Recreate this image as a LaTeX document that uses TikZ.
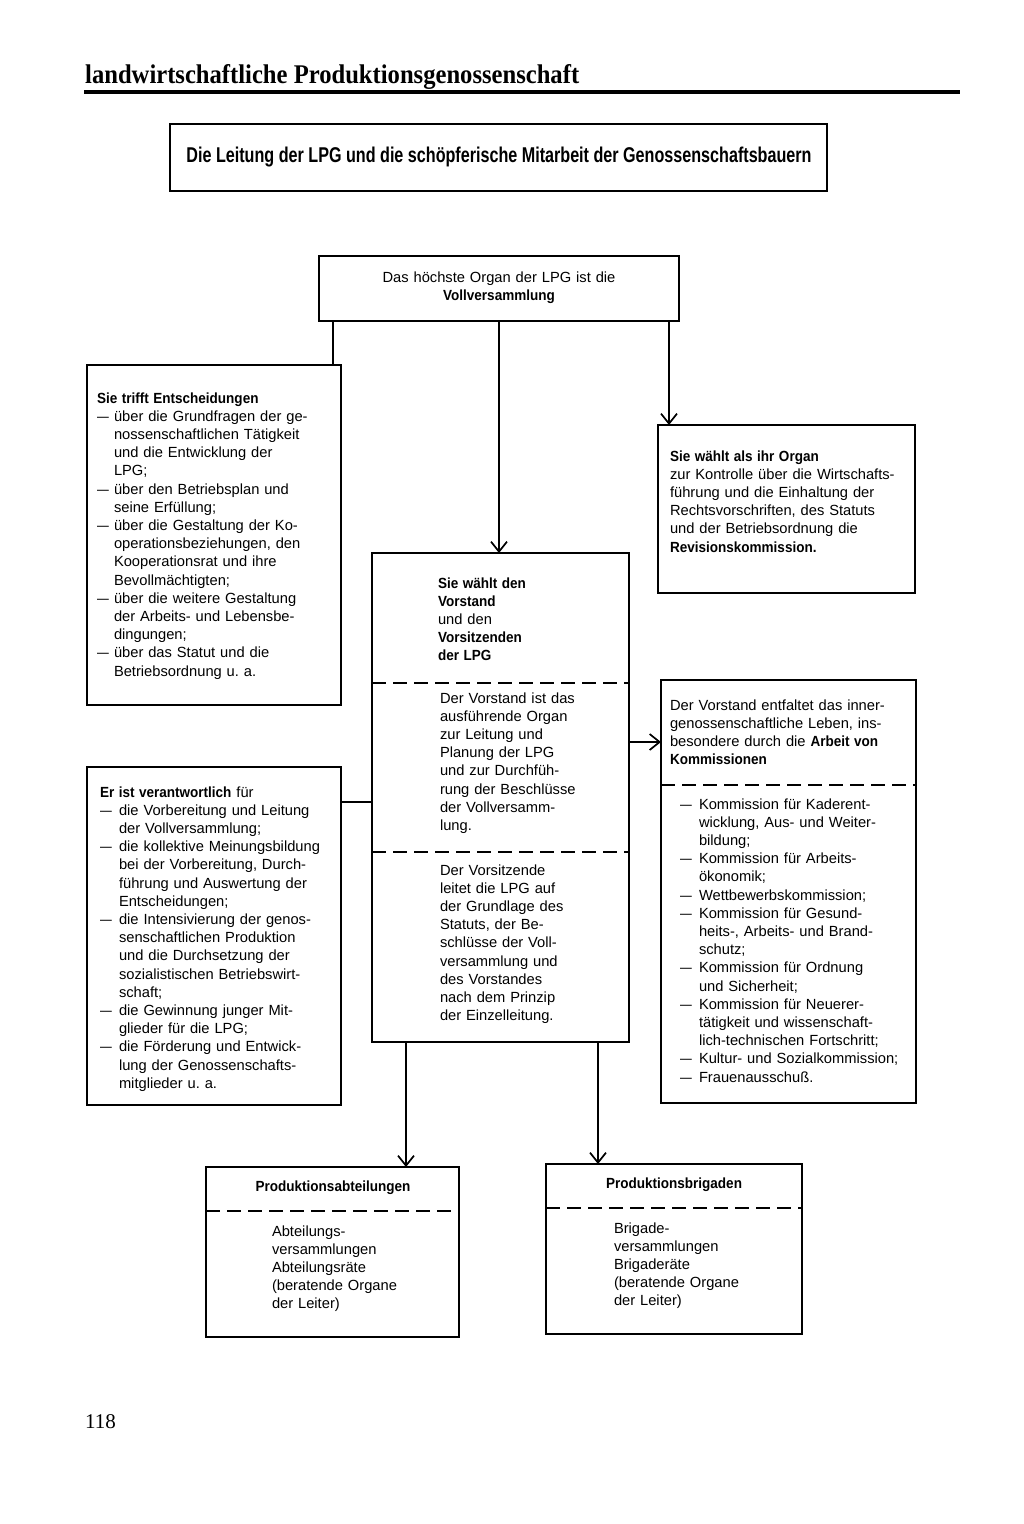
\documentclass[tikz,border=0pt]{standalone}
\usepackage{fontspec}
\usepackage{graphicx}
\setmainfont{Liberation Sans}
\newfontfamily\seriffont{Liberation Serif}
\usetikzlibrary{arrows.meta,calc}
\frenchspacing
\newlength\dw
\setlength\dw{17pt}
\newcommand\B[1]{\scalebox{0.92}[1]{\bfseries #1}}
\newcommand\dd{\makebox[\dw][l]{\scalebox{0.8}[1]{—}}}
\newcommand\ii{\hspace*{\dw}}
\tikzset{
  box/.style={draw, line width=1.9pt, inner sep=0pt, outer sep=0pt, anchor=north west},
  txt/.style={anchor=north west, inner sep=0pt, outer sep=0pt, align=left, text width=245pt,
    font=\fontsize{14.7}{18.2}\selectfont},
  ctxt/.style={inner sep=0pt, outer sep=0pt, font=\fontsize{14.7}{18.2}\selectfont},
  divider/.style={line width=1.8pt, dash pattern=on 14pt off 7pt},
  conn/.style={line width=1.7pt},
  arr/.style={line width=1.7pt, -{Straight Barb[length=10pt,width=16pt,line width=1.7pt]}}
}
\begin{document}
\begin{tikzpicture}[x=1pt,y=-1pt]
\useasboundingbox[fill=white] (0,0) rectangle (1024,1524);

% header
\node[anchor=base west, inner sep=0pt] (head) at (85,83)
  {\resizebox{494pt}{19pt}{\seriffont\bfseries landwirtschaftliche Produktionsgenossenschaft}};
\draw[line width=3.5pt] (84,92) -- (960,92);

% title box
\node[box, minimum width=657pt, minimum height=67pt] (title) at (170,124) {};
\node[anchor=base, inner sep=0pt] (titletext) at (499,162)
  {\resizebox{625pt}{15.5pt}{\bfseries Die Leitung der LPG und die schöpferische Mitarbeit der Genossenschaftsbauern}};

% boxes
\node[box, minimum width=360pt, minimum height=65pt] (vv) at (319,256) {};
\node[box, minimum width=254pt, minimum height=340pt] (a) at (87,365) {};
\node[box, minimum width=257pt, minimum height=168pt] (b) at (658,425) {};
\node[box, minimum width=257pt, minimum height=489pt] (c) at (372,553) {};
\node[box, minimum width=254pt, minimum height=338pt] (d) at (87,767) {};
\node[box, minimum width=255pt, minimum height=423pt] (e) at (661,680) {};
\node[box, minimum width=253pt, minimum height=170pt] (f) at (206,1167) {};
\node[box, minimum width=256pt, minimum height=170pt] (g) at (546,1164) {};

% dividers
\draw[divider] ([yshift=-130pt]c.north west) -- ([yshift=-130pt]c.north east);
\draw[divider] ([yshift=-299pt]c.north west) -- ([yshift=-299pt]c.north east);
\draw[divider] ([yshift=-105pt]e.north west) -- ([yshift=-105pt]e.north east);
\draw[divider] ([yshift=-44pt]f.north west) -- ([yshift=-44pt]f.north east);
\draw[divider] ([yshift=-44pt]g.north west) -- ([yshift=-44pt]g.north east);

% texts
\node[ctxt, anchor=north, align=center, text width=340pt] (vvtext) at (499,269.3)
  {\strut Das höchste Organ der LPG ist die\\ \B{Vollversammlung}};

\node[txt] (atext) at (97,390.3) {\setlength\dw{17pt}\strut\B{Sie trifft Entscheidungen}\\
\dd über die Grundfragen der ge-\\
\ii nossenschaftlichen Tätigkeit\\
\ii und die Entwicklung der\\
\ii LPG;\\
\dd über den Betriebsplan und\\
\ii seine Erfüllung;\\
\dd über die Gestaltung der Ko-\\
\ii operationsbeziehungen, den\\
\ii Kooperationsrat und ihre\\
\ii Bevollmächtigten;\\
\dd über die weitere Gestaltung\\
\ii der Arbeits- und Lebensbe-\\
\ii dingungen;\\
\dd über das Statut und die\\
\ii Betriebsordnung u. a.};

\node[txt] (btext) at (670,448.3) {\strut\B{Sie wählt als ihr Organ}\\
zur Kontrolle über die Wirtschafts-\\
führung und die Einhaltung der\\
Rechtsvorschriften, des Statuts\\
und der Betriebsordnung die\\
\B{Revisionskommission.}};

\node[txt] (c1text) at (438,575.3) {\strut\B{Sie wählt den}\\
\B{Vorstand}\\
und den\\
\B{Vorsitzenden}\\
\B{der LPG}};

\node[txt] (c2text) at (440,690.3) {\strut Der Vorstand ist das\\
ausführende Organ\\
zur Leitung und\\
Planung der LPG\\
und zur Durchfüh-\\
rung der Beschlüsse\\
der Vollversamm-\\
lung.};

\node[txt] (c3text) at (440,862.3) {\strut Der Vorsitzende\\
leitet die LPG auf\\
der Grundlage des\\
Statuts, der Be-\\
schlüsse der Voll-\\
versammlung und\\
des Vorstandes\\
nach dem Prinzip\\
der Einzelleitung.};

\node[txt] (dtext) at (100,784.3) {\setlength\dw{19pt}\strut\B{Er ist verantwortlich} für\\
\dd die Vorbereitung und Leitung\\
\ii der Vollversammlung;\\
\dd die kollektive Meinungsbildung\\
\ii bei der Vorbereitung, Durch-\\
\ii führung und Auswertung der\\
\ii Entscheidungen;\\
\dd die Intensivierung der genos-\\
\ii senschaftlichen Produktion\\
\ii und die Durchsetzung der\\
\ii sozialistischen Betriebswirt-\\
\ii schaft;\\
\dd die Gewinnung junger Mit-\\
\ii glieder für die LPG;\\
\dd die Förderung und Entwick-\\
\ii lung der Genossenschafts-\\
\ii mitglieder u. a.};

\node[txt] (e1text) at (670,697.3) {\strut Der Vorstand entfaltet das inner-\\
genossenschaftliche Leben, ins-\\
besondere durch die \B{Arbeit von}\\
\B{Kommissionen}};

\node[txt] (e2text) at (680,796.3) {\setlength\dw{19pt}\strut\dd Kommission für Kaderent-\\
\ii wicklung, Aus- und Weiter-\\
\ii bildung;\\
\dd Kommission für Arbeits-\\
\ii ökonomik;\\
\dd Wettbewerbskommission;\\
\dd Kommission für Gesund-\\
\ii heits-, Arbeits- und Brand-\\
\ii schutz;\\
\dd Kommission für Ordnung\\
\ii und Sicherheit;\\
\dd Kommission für Neuerer-\\
\ii tätigkeit und wissenschaft-\\
\ii lich-technischen Fortschritt;\\
\dd Kultur- und Sozialkommission;\\
\dd Frauenausschuß.};

\node[ctxt, anchor=base] (ftitle) at (333,1191) {\B{Produktionsabteilungen}};
\node[txt] (ftext) at (272,1223.3) {\strut Abteilungs-\\
versammlungen\\
Abteilungsräte\\
(beratende Organe\\
der Leiter)};

\node[ctxt, anchor=base] (gtitle) at (674,1188) {\B{Produktionsbrigaden}};
\node[txt] (gtext) at (614,1220.3) {\strut Brigade-\\
versammlungen\\
Brigaderäte\\
(beratende Organe\\
der Leiter)};

% page number
\node[anchor=base west, inner sep=0pt, font=\seriffont\fontsize{21}{24}\selectfont] (pnum) at (85,1428) {118};

% connectors
\coordinate (v1) at ([xshift=14pt]vv.south west);
\coordinate (v3) at ([xshift=-10pt]vv.south east);
\coordinate (dc) at ([yshift=-35pt]d.north east);
\coordinate (ce) at ([yshift=-189pt]c.north east);
\coordinate (cf) at ([xshift=34pt]c.south west);
\coordinate (cg) at ([xshift=-31pt]c.south east);
\draw[conn] (v1) -- (v1 |- a.north);
\draw[arr] (vv.south) -- (vv.south |- c.north);
\draw[arr] (v3) -- (v3 |- b.north);
\draw[conn] (dc) -- (dc -| c.west);
\draw[arr] (ce) -- (ce -| e.west);
\draw[arr] (cf) -- (cf |- f.north);
\draw[arr] (cg) -- (cg |- g.north);
\end{tikzpicture}
\end{document}
